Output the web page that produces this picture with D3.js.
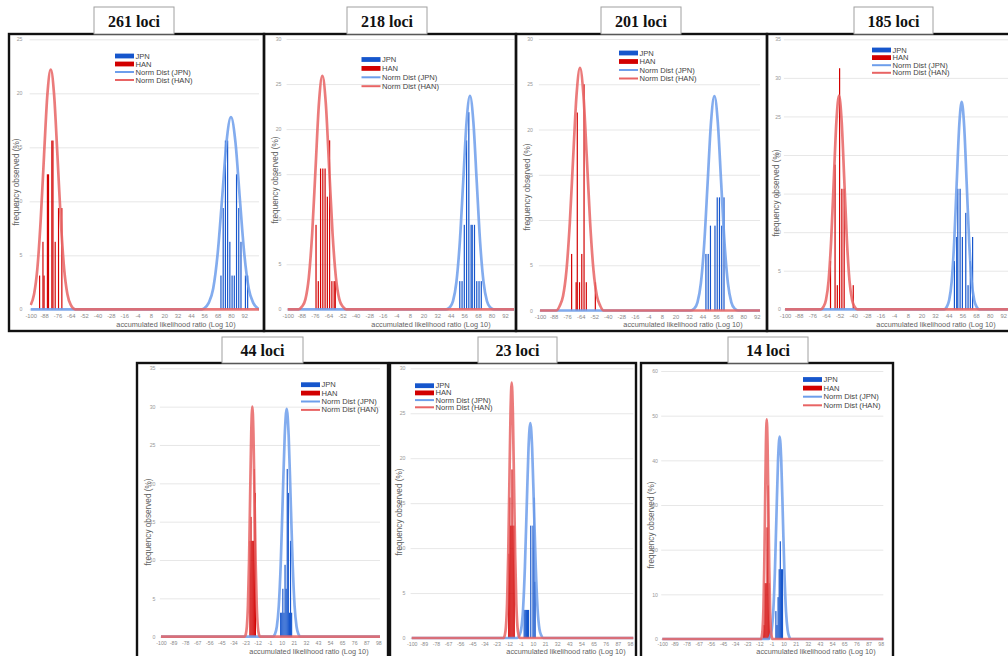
<!DOCTYPE html>
<html>
<head>
<meta charset="utf-8">
<script src="https://cdnjs.cloudflare.com/ajax/libs/d3/7.8.5/d3.min.js"></script>
<style>
    body { margin: 0; background: #fff; }
    svg { display: block; font-family: 'Liberation Sans', Arial, sans-serif; }
</style>
</head>
<body>
<svg id="chart" width="1008" height="656"></svg>
<script>
// ---- data ----
var panelTitles = ['261 loci', '218 loci', '201 loci', '185 loci', '44 loci', '23 loci', '14 loci'];
var seriesNames = ['JPN', 'HAN', 'Norm Dist (JPN)', 'Norm Dist (HAN)'];

var topRowTicks = [-100, -88, -76, -64, -52, -40, -28, -16, -4, 8, 20, 32, 44, 56, 68, 80, 92];
var bottomRowTicks = [-100, -89, -78, -67, -56, -45, -34, -23, -12, -1, 10, 21, 32, 43, 54, 65, 76, 87, 98];

var yTicks25 = [0, 5, 10, 15, 20, 25];
var yTicks30 = [0, 5, 10, 15, 20, 25, 30];
var yTicks35 = [0, 5, 10, 15, 20, 25, 30, 35];
var yTicks60 = [0, 10, 20, 30, 40, 50, 60];

// histogram bars: [likelihood ratio, frequency %]
var jpnBars261 = [[71, 3.125], [73, 9.375], [75, 15.625], [77, 15.625], [79, 6.25], [81, 3.125], [83, 3.125], [85, 12.5], [87, 9.375], [89, 6.25], [93, 3.125], [95, 3.125]];
var hanBars261 = [[-92, 3.125], [-89, 6.25], [-88, 3.125], [-85, 12.5], [-84, 12.5], [-81, 15.625], [-80, 15.625], [-78, 6.25], [-75, 9.375], [-72, 9.375]];
var jpnBars218 = [[52, 3.125], [54, 3.125], [56, 9.375], [58, 18.75], [60, 21.875], [62, 9.375], [63, 9.375], [65, 9.375], [67, 3.125], [69, 3.125], [71, 3.125]];
var hanBars218 = [[-75, 9.375], [-73, 3.125], [-71, 15.625], [-69, 15.625], [-67, 15.625], [-65, 12.5], [-63, 18.75], [-61, 3.125], [-59, 3.125], [-58, 3.125]];
var jpnBars201 = [[47, 6.25], [49, 6.25], [51, 9.375], [55, 9.375], [57, 12.5], [59, 12.5], [61, 9.375], [63, 12.5]];
var hanBars201 = [[-72, 6.25], [-68, 3.125], [-67, 21.875], [-65, 3.125], [-63, 6.25], [-61, 25], [-59, 3.125], [-51, 3.125]];
var jpnBars185 = [[49, 6.25], [51, 9.375], [52, 15.625], [54, 15.625], [56, 9.375], [59, 12.5], [61, 3.125], [63, 6.25], [65, 9.375]];
var hanBars185 = [[-60, 6.25], [-56, 18.75], [-54, 3.125], [-52, 31.25], [-50, 15.625], [-48, 15.625], [-40, 3.125]];
var jpnBars44 = [[9, 3.125], [10, 3.125], [11, 6.25], [12, 3.125], [13, 9.375], [14, 6.25], [15, 21.875], [16, 18.75], [17, 3.125], [18, 12.5], [19, 3.125]];
var hanBars44 = [[-19, 12.5], [-18, 15.625], [-17, 12.5], [-16, 12.5], [-15, 21.875], [-14, 18.75]];
var jpnBars23 = [[2, 3.125], [3, 3.125], [4, 3.125], [5, 3.125], [6, 3.125], [8, 12.5], [10, 12.5], [11, 15.625], [12, 6.25]];
var hanBars23 = [[-12, 9.375], [-11, 15.625], [-10, 12.5], [-9, 18.75], [-8, 12.5], [-7, 12.5]];
var jpnBars14 = [[3, 6.25], [4, 3.125], [5, 9.375], [6, 15.625], [7, 21.875], [8, 15.625], [9, 15.625]];
var hanBars14 = [[-8, 3.125], [-7, 12.5], [-6, 12.5], [-5, 25], [-4, 34.375], [-3, 12.5]];

// normal distribution curves
var jpnCurve261 = [[-100, 0], [54, 0], [56, 0.1], [60, 0.6], [64, 1.9], [68, 5.1], [72, 10.2], [76, 15.5], [80, 17.8], [84, 15.5], [88, 10.2], [92, 5.1], [96, 1.9], [100, 0.6], [104, 0.1], [106, 0]];
var hanCurve261 = [[-100, 0.4], [-97, 1.4], [-94, 3.8], [-91, 8.3], [-88, 14.3], [-85, 19.9], [-82, 22.2], [-79, 19.9], [-76, 14.3], [-73, 8.3], [-70, 3.8], [-67, 1.4], [-64, 0.4], [-60, 0], [106, 0]];
var jpnCurve218 = [[-100, 0], [40, 0], [43, 0.2], [46, 0.9], [49, 3.0], [52, 7.4], [55, 14.1], [58, 20.8], [61, 23.7], [64, 20.8], [67, 14.1], [70, 7.4], [73, 3.0], [76, 0.9], [79, 0.2], [82, 0], [106, 0]];
var hanCurve218 = [[-100, 0], [-90.4, 0], [-87.4, 0.3], [-84.4, 1.1], [-81.4, 3.5], [-78.4, 8.4], [-75.4, 15.7], [-72.4, 22.9], [-69.4, 25.9], [-66.4, 22.9], [-63.4, 15.7], [-60.4, 8.4], [-57.4, 3.5], [-54.4, 1.1], [-51.4, 0.3], [-48.4, 0], [106, 0]];
var jpnCurve201 = [[-100, 0], [33.5, 0], [36.5, 0.2], [39.5, 0.9], [42.5, 3.0], [45.5, 7.4], [48.5, 14.1], [51.5, 20.8], [54.5, 23.7], [57.5, 20.8], [60.5, 14.1], [63.5, 7.4], [66.5, 3.0], [69.5, 0.9], [72.5, 0.2], [75.5, 0], [106, 0]];
var hanCurve201 = [[-100, 0], [-85.6, 0], [-82.6, 0.5], [-79.6, 1.6], [-76.6, 4.4], [-73.6, 9.7], [-70.6, 17.0], [-67.6, 23.9], [-64.6, 26.8], [-61.6, 23.9], [-58.6, 17.0], [-55.6, 9.7], [-52.6, 4.4], [-49.6, 1.6], [-46.6, 0.5], [-43.6, 0], [106, 0]];
var jpnCurve185 = [[-100, 0], [40, 0], [42.2, 0.3], [44.4, 1.2], [46.6, 3.6], [48.8, 8.7], [51, 16.3], [53.2, 23.7], [55.4, 26.9], [57.6, 23.7], [59.8, 16.3], [62, 8.7], [64.2, 3.6], [66.4, 1.2], [68.6, 0.3], [70.8, 0], [106, 0]];
var hanCurve185 = [[-100, 0], [-68.6, 0], [-66.3, 0.3], [-64, 1.2], [-61.7, 3.7], [-59.4, 9.0], [-57.1, 16.8], [-54.8, 24.4], [-52.5, 27.7], [-50.2, 24.4], [-47.9, 16.8], [-45.6, 9.0], [-43.3, 3.7], [-41, 1.2], [-38.7, 0.3], [-36.4, 0], [106, 0]];
var jpnCurve44 = [[-100, 0], [1.9, 0], [3.7, 0.3], [5.5, 1.3], [7.3, 4.0], [9.1, 9.6], [10.9, 18.0], [12.7, 26.2], [14.5, 29.7], [16.3, 26.2], [18.1, 18.0], [19.9, 9.6], [21.7, 4.0], [23.5, 1.3], [25.3, 0.3], [27.1, 0], [106, 0]];
var hanCurve44 = [[-100, 0], [-23.8, 0], [-22.8, 0.3], [-21.8, 1.3], [-20.8, 4.1], [-19.8, 9.7], [-18.8, 18.2], [-17.8, 26.5], [-16.8, 30], [-15.8, 26.5], [-14.8, 18.2], [-13.8, 9.7], [-12.8, 4.1], [-11.8, 1.3], [-10.8, 0.3], [-9.8, 0], [106, 0]];
var jpnCurve23 = [[-100, 0], [-4, 0], [-2.3, 0.3], [-0.65, 1.0], [1, 3.2], [2.65, 7.8], [4.3, 14.5], [5.95, 21.1], [7.6, 23.9], [9.25, 21.1], [10.9, 14.5], [12.55, 7.8], [14.2, 3.2], [15.85, 1.0], [17.5, 0.3], [19.2, 0], [106, 0]];
var hanCurve23 = [[-100, 0], [-16.65, 0], [-15.6, 0.3], [-14.55, 1.2], [-13.5, 3.8], [-12.45, 9.2], [-11.4, 17.2], [-10.35, 25.1], [-9.3, 28.4], [-8.25, 25.1], [-7.2, 17.2], [-6.15, 9.2], [-5.1, 3.8], [-4.05, 1.2], [-3, 0.3], [-1.95, 0], [106, 0]];
var jpnCurve14 = [[-100, 0], [-3.75, 0], [-2.3, 0.5], [-0.85, 2.0], [0.6, 6.1], [2.05, 14.7], [3.5, 27.5], [4.95, 40.0], [6.4, 45.3], [7.85, 40.0], [9.3, 27.5], [10.75, 14.7], [12.2, 6.1], [13.65, 2.0], [15.1, 0.5], [16.55, 0], [106, 0]];
var hanCurve14 = [[-100, 0], [-10.55, 0], [-9.8, 0.5], [-9.05, 2.2], [-8.3, 6.7], [-7.55, 16.0], [-6.8, 29.8], [-6.05, 43.4], [-5.3, 49.2], [-4.55, 43.4], [-3.8, 29.8], [-3.05, 16.0], [-2.3, 6.7], [-1.55, 2.2], [-0.8, 0.5], [-0.05, 0], [106, 0]];

// ---- colours ----
var jpnBarColor = '#1656cc',
    hanBarColor = '#d20000',
    jpnLineColor = '#6d9eeb',
    hanLineColor = '#e86464';

// ---- layout of each panel (pixels) ----
var layouts = [
    { frame: [9, 34, 264, 331], box: [94, 7, 174, 34], left: 29.6, right: 259, top: 39.3, bottom: 309.3, xHi: 105.2,
      yLabelRight: 22.5, yTitle: [16, 182], xLabelY: 316, xTitle: [176, 324], legend: [115, 56, 8], tickFont: 5.8 },
    { frame: [264, 34, 516, 331], box: [347, 7, 427, 34], left: 286.6, right: 514, top: 39, bottom: 309.3, xHi: 99.9,
      yLabelRight: 281.5, yTitle: [275, 180], xLabelY: 316, xTitle: [431, 324], legend: [361.5, 59.5, 8.9], tickFont: 5.8 },
    { frame: [516, 34, 767, 331], box: [601, 7, 681, 34], left: 538.9, right: 760, top: 39, bottom: 310.5, xHi: 94.9,
      yLabelRight: 533, yTitle: [527, 187], xLabelY: 316.5, xTitle: [683, 324], legend: [619, 53, 8.5], tickFont: 5.8 },
    { frame: [767, 34, 1012, 331], box: [854, 7, 933, 34], left: 783.9, right: 1010, top: 39.3, bottom: 309.3, xHi: 97.9,
      yLabelRight: 781, yTitle: [776, 193], xLabelY: 316, xTitle: [936, 324], legend: [872, 50, 7.6], tickFont: 5.8 },
    { frame: [137, 363, 388, 662], box: [222, 337, 303, 363], left: 159.9, right: 380, top: 368.3, bottom: 636.7, xHi: 99.5,
      yLabelRight: 155.5, yTitle: [148, 522], xLabelY: 643.5, xTitle: [309, 651.5], legend: [301, 384.7, 8.4], tickFont: 5.2 },
    { frame: [390, 363, 636, 662], box: [478, 337, 557, 363], left: 410.6, right: 633.3, top: 368.3, bottom: 638, xHi: 101,
      yLabelRight: 405.5, yTitle: [399, 512], xLabelY: 644, xTitle: [566, 651.5], legend: [415, 385.7, 7.2], tickFont: 5.2 },
    { frame: [641, 363, 893, 662], box: [728, 337, 808, 363], left: 661.2, right: 883.3, top: 371, bottom: 639, xHi: 100.4,
      yLabelRight: 658, yTitle: [651, 525], xLabelY: 644.5, xTitle: [816, 651.5], legend: [803, 379.5, 8.6], tickFont: 5.2 }
];

var panelData = [
    { xTicks: topRowTicks, yTicks: yTicks25, jpnBars: jpnBars261, hanBars: hanBars261, jpnCurve: jpnCurve261, hanCurve: hanCurve261 },
    { xTicks: topRowTicks, yTicks: yTicks30, jpnBars: jpnBars218, hanBars: hanBars218, jpnCurve: jpnCurve218, hanCurve: hanCurve218 },
    { xTicks: topRowTicks, yTicks: yTicks30, jpnBars: jpnBars201, hanBars: hanBars201, jpnCurve: jpnCurve201, hanCurve: hanCurve201 },
    { xTicks: topRowTicks, yTicks: yTicks35, jpnBars: jpnBars185, hanBars: hanBars185, jpnCurve: jpnCurve185, hanCurve: hanCurve185 },
    { xTicks: bottomRowTicks, yTicks: yTicks35, jpnBars: jpnBars44, hanBars: hanBars44, jpnCurve: jpnCurve44, hanCurve: hanCurve44 },
    { xTicks: bottomRowTicks, yTicks: yTicks30, jpnBars: jpnBars23, hanBars: hanBars23, jpnCurve: jpnCurve23, hanCurve: hanCurve23 },
    { xTicks: bottomRowTicks, yTicks: yTicks60, jpnBars: jpnBars14, hanBars: hanBars14, jpnCurve: jpnCurve14, hanCurve: hanCurve14 }
];

var svg = d3.select('#chart');

svg.append('rect')
    .attr('width', 1008)
    .attr('height', 656)
    .attr('fill', '#fff');

function drawBars(g, bars, x, y, color) {
    var w = (x(1) - x(0)) * 1.05;

    g.selectAll(null)
        .data(bars)
        .enter()
        .append('rect')
        .attr('x', function (d) { return x(d[0]) - w / 2; })
        .attr('y', function (d) { return y(d[1]); })
        .attr('width', w)
        .attr('height', function (d) { return y(0) - y(d[1]); })
        .attr('fill', color);
}

function drawCurve(g, points, x, y, color) {
    var line = d3.line()
        .x(function (d) { return x(d[0]); })
        .y(function (d) { return y(d[1]); })
        .curve(d3.curveMonotoneX);

    g.append('path')
        .datum(points)
        .attr('d', line)
        .attr('fill', 'none')
        .attr('stroke', color)
        .attr('stroke-width', 2.7)
        .attr('stroke-opacity', 0.85)
        .attr('stroke-linejoin', 'round');
}

function drawPanel(p, data, title, i) {
    var g = svg.append('g'),
        yMax = data.yTicks[data.yTicks.length - 1],
        x = d3.scaleLinear().domain([-101, p.xHi]).range([p.left, p.right]),
        y = d3.scaleLinear().domain([0, yMax]).range([p.bottom, p.top]);

    // clip so lines stop at the plot edge
    svg.append('clipPath')
        .attr('id', 'clip' + i)
        .append('rect')
        .attr('x', p.left)
        .attr('y', p.top - 6)
        .attr('width', p.right - p.left)
        .attr('height', p.bottom - p.top + 10);

    // gridlines + y labels
    var yAxis = g.append('g')
        .attr('transform', 'translate(' + p.left + ',0)')
        .call(d3.axisLeft(y)
            .tickValues(data.yTicks)
            .tickSize(-(p.right - p.left))
            .tickPadding(p.left - p.yLabelRight)
            .tickFormat(function (d) { return String(d); }));
    yAxis.select('.domain').remove();
    yAxis.selectAll('line')
        .attr('stroke', '#e1e1e1')
        .attr('stroke-width', 0.8);
    yAxis.selectAll('text')
        .style('font-size', '5.2px')
        .style('font-family', 'Liberation Sans, Arial, sans-serif')
        .attr('fill', '#999');

    // x labels
    var xAxis = g.append('g')
        .attr('transform', 'translate(0,' + p.bottom + ')')
        .call(d3.axisBottom(x)
            .tickValues(data.xTicks)
            .tickSize(0)
            .tickFormat(function (d) { return String(d); }));
    xAxis.select('.domain').remove();
    xAxis.selectAll('text')
        .attr('y', p.xLabelY - p.bottom)
        .attr('dy', '0.35em')
        .style('font-size', p.tickFont + 'px')
        .style('font-family', 'Liberation Sans, Arial, sans-serif')
        .attr('fill', '#8a8a8a');

    var plot = g.append('g').attr('clip-path', 'url(#clip' + i + ')');

    drawBars(plot, data.jpnBars, x, y, jpnBarColor);
    drawBars(plot, data.hanBars, x, y, hanBarColor);
    drawCurve(plot, data.jpnCurve, x, y, jpnLineColor);
    drawCurve(plot, data.hanCurve, x, y, hanLineColor);

    // axis titles
    g.append('text')
        .attr('transform', 'translate(' + p.yTitle[0] + ',' + p.yTitle[1] + ') rotate(-90)')
        .attr('text-anchor', 'middle')
        .attr('dominant-baseline', 'central')
        .attr('font-size', 8.2)
        .attr('fill', '#5f5f5f')
        .text('frequency observed (%)');

    g.append('text')
        .attr('x', p.xTitle[0])
        .attr('y', p.xTitle[1])
        .attr('text-anchor', 'middle')
        .attr('dominant-baseline', 'central')
        .attr('font-size', 7.3)
        .attr('fill', '#5f5f5f')
        .text('accumulated likelihood ratio (Log 10)');

    // legend
    var legendColors = [jpnBarColor, hanBarColor, jpnLineColor, hanLineColor];
    seriesNames.forEach(function (name, k) {
        var ly = p.legend[1] + k * p.legend[2];

        if (k < 2) {
            g.append('rect')
                .attr('x', p.legend[0])
                .attr('y', ly - 2.4)
                .attr('width', 19)
                .attr('height', 4.8)
                .attr('fill', legendColors[k]);
        } else {
            g.append('line')
                .attr('x1', p.legend[0])
                .attr('x2', p.legend[0] + 19)
                .attr('y1', ly)
                .attr('y2', ly)
                .attr('stroke', legendColors[k])
                .attr('stroke-width', 2);
        }

        g.append('text')
            .attr('x', p.legend[0] + 20.5)
            .attr('y', ly)
            .attr('dominant-baseline', 'central')
            .attr('font-size', 7.6)
            .attr('fill', '#444')
            .text(name);
    });

    // frame
    g.append('rect')
        .attr('x', p.frame[0])
        .attr('y', p.frame[1])
        .attr('width', p.frame[2] - p.frame[0])
        .attr('height', p.frame[3] - p.frame[1])
        .attr('fill', 'none')
        .attr('stroke', '#111')
        .attr('stroke-width', 2.4);

    // title box
    g.append('rect')
        .attr('x', p.box[0])
        .attr('y', p.box[1])
        .attr('width', p.box[2] - p.box[0])
        .attr('height', p.box[3] - p.box[1])
        .attr('fill', '#fff')
        .attr('stroke', '#a0a0a0')
        .attr('stroke-width', 1);

    g.append('text')
        .attr('x', (p.box[0] + p.box[2]) / 2)
        .attr('y', (p.box[1] + p.box[3]) / 2 + 0.5)
        .attr('text-anchor', 'middle')
        .attr('dominant-baseline', 'central')
        .attr('font-family', 'Liberation Serif, DejaVu Serif, serif')
        .attr('font-weight', 'bold')
        .attr('font-size', 16)
        .attr('fill', '#111')
        .text(title);
}

layouts.forEach(function (p, i) {
    drawPanel(p, panelData[i], panelTitles[i], i);
});
</script>
</body>
</html>
